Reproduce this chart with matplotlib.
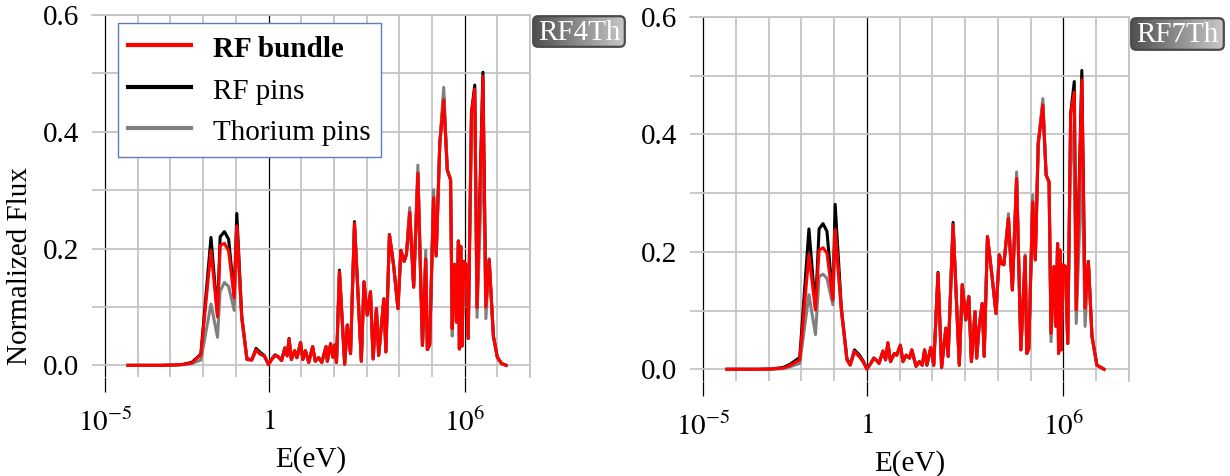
import numpy as np
import matplotlib
matplotlib.use("Agg")
import matplotlib.pyplot as plt
from matplotlib.patches import FancyBboxPatch
from matplotlib.ticker import FixedLocator, NullFormatter

# ---------------- data (log10 of energy in eV, normalized flux) ----------------
loge_4th = [-4.30, -3.80, -3.30, -2.90, -2.60, -2.35, -2.07, -1.76, -1.56, -1.48,
            -1.35, -1.22, -1.05, -0.97, -0.82, -0.66, -0.51, -0.38, -0.25, -0.13,
            0.00, 0.10, 0.20, 0.30, 0.40, 0.50, 0.57, 0.63, 0.70, 0.80,
            0.87, 0.98, 1.05, 1.13, 1.23, 1.35, 1.43, 1.53, 1.63, 1.76,
            1.80, 1.90, 1.97, 2.03, 2.08, 2.17, 2.33, 2.41, 2.51, 2.63,
            2.84, 2.92, 3.02, 3.12, 3.20, 3.30, 3.37, 3.45, 3.53, 3.59,
            3.70, 3.83, 3.96, 4.05, 4.15, 4.22, 4.32, 4.44, 4.57, 4.71,
            4.81, 4.86, 4.93, 5.05, 5.13, 5.24, 5.36, 5.47, 5.57, 5.62,
            5.69, 5.75, 5.81, 5.84, 5.88, 5.92, 5.97, 6.04, 6.11, 6.21,
            6.31, 6.38, 6.56, 6.65, 6.75, 6.88, 7.00, 7.13, 7.27]
bundle_4th = [0, 0, 0, 0.0005, 0.0015, 0.004, 0.018, 0.197, 0.083, 0.205,
              0.209, 0.196, 0.116, 0.239, 0.082, 0.010, 0.009, 0.026, 0.019, 0.016,
              0.001, 0.010, 0.017, 0.014, 0.008, 0.029, 0.016, 0.045, 0.010, 0.025,
              0.013, 0.039, 0.010, 0.025, 0.005, 0.032, 0.007, 0.013, 0.005, 0.032,
              0.007, 0.037, 0.014, 0.035, 0.005, 0.160, 0.002, 0.069, 0.020, 0.243,
              0.007, 0.143, 0.086, 0.126, 0.011, 0.097, 0.017, 0.066, 0.114, 0.023,
              0.224, 0.170, 0.097, 0.197, 0.178, 0.190, 0.262, 0.134, 0.329, 0.034,
              0.182, 0.027, 0.035, 0.287, 0.187, 0.380, 0.455, 0.334, 0.318, 0.063,
              0.173, 0.074, 0.213, 0.028, 0.204, 0.033, 0.178, 0.173, 0.046, 0.433,
              0.473, 0.099, 0.495, 0.100, 0.181, 0.050, 0.014, 0.003, 0.0]
rfpins_4th = [0, 0, 0, 0.0005, 0.0018, 0.005, 0.019, 0.219, 0.086, 0.220,
              0.229, 0.216, 0.118, 0.260, 0.086, 0.011, 0.010, 0.029, 0.022, 0.017,
              0.002, 0.011, 0.018, 0.015, 0.009, 0.030, 0.017, 0.046, 0.010, 0.025,
              0.013, 0.039, 0.010, 0.025, 0.005, 0.032, 0.007, 0.013, 0.005, 0.032,
              0.007, 0.037, 0.014, 0.035, 0.005, 0.163, 0.002, 0.069, 0.020, 0.246,
              0.007, 0.143, 0.086, 0.126, 0.011, 0.097, 0.017, 0.066, 0.114, 0.023,
              0.224, 0.170, 0.097, 0.197, 0.178, 0.190, 0.262, 0.134, 0.329, 0.034,
              0.182, 0.027, 0.035, 0.287, 0.189, 0.380, 0.460, 0.334, 0.318, 0.063,
              0.173, 0.074, 0.213, 0.028, 0.204, 0.033, 0.178, 0.173, 0.046, 0.433,
              0.480, 0.099, 0.502, 0.100, 0.182, 0.050, 0.014, 0.003, 0.0]
thorium_4th = [0, 0, 0, 0.0003, 0.001, 0.003, 0.009, 0.105, 0.048, 0.127,
               0.142, 0.135, 0.094, 0.235, 0.080, 0.010, 0.009, 0.026, 0.019, 0.016,
               0.001, 0.010, 0.017, 0.014, 0.008, 0.029, 0.016, 0.044, 0.010, 0.025,
               0.013, 0.039, 0.010, 0.025, 0.005, 0.032, 0.007, 0.013, 0.005, 0.032,
               0.007, 0.037, 0.014, 0.035, 0.005, 0.160, 0.002, 0.069, 0.020, 0.243,
               0.007, 0.143, 0.086, 0.126, 0.011, 0.097, 0.017, 0.066, 0.114, 0.023,
               0.224, 0.170, 0.097, 0.197, 0.178, 0.190, 0.270, 0.134, 0.343, 0.034,
               0.197, 0.027, 0.035, 0.301, 0.187, 0.380, 0.476, 0.334, 0.318, 0.050,
               0.173, 0.074, 0.213, 0.028, 0.204, 0.033, 0.178, 0.173, 0.046, 0.433,
               0.430, 0.082, 0.385, 0.080, 0.181, 0.050, 0.014, 0.003, 0.0]

loge_7th = [-4.27, -3.80, -3.30, -2.90, -2.56, -2.36, -2.05, -1.77, -1.57, -1.46,
            -1.34, -1.22, -1.04, -0.97, -0.78, -0.61, -0.51, -0.38, -0.24, -0.12,
            0.00, 0.13, 0.21, 0.28, 0.37, 0.49, 0.57, 0.64, 0.72, 0.84,
            0.91, 1.02, 1.10, 1.20, 1.30, 1.37, 1.50, 1.60, 1.69, 1.76,
            1.83, 1.95, 2.04, 2.17, 2.28, 2.41, 2.48, 2.63, 2.82, 2.91,
            3.02, 3.11, 3.19, 3.30, 3.35, 3.42, 3.52, 3.58, 3.68, 3.82,
            3.94, 4.04, 4.11, 4.18, 4.32, 4.44, 4.57, 4.70, 4.83, 4.88,
            4.94, 5.06, 5.14, 5.23, 5.37, 5.47, 5.56, 5.62, 5.71, 5.77,
            5.82, 5.85, 5.89, 5.93, 5.98, 6.06, 6.13, 6.22, 6.33, 6.39,
            6.56, 6.66, 6.76, 6.87, 7.02, 7.24]
bundle_7th = [0, 0, 0, 0.0005, 0.002, 0.006, 0.016, 0.195, 0.101, 0.203,
              0.207, 0.198, 0.118, 0.238, 0.101, 0.016, 0.007, 0.030, 0.022, 0.013,
              0.0, 0.011, 0.019, 0.016, 0.010, 0.031, 0.016, 0.045, 0.013, 0.027,
              0.024, 0.041, 0.013, 0.024, 0.019, 0.033, 0.005, 0.013, 0.007, 0.033,
              0.007, 0.037, 0.007, 0.163, 0.003, 0.070, 0.022, 0.246, 0.007, 0.144,
              0.084, 0.124, 0.013, 0.098, 0.019, 0.070, 0.112, 0.022, 0.226, 0.158,
              0.095, 0.195, 0.180, 0.178, 0.257, 0.135, 0.325, 0.033, 0.192, 0.027,
              0.035, 0.285, 0.186, 0.385, 0.450, 0.331, 0.319, 0.061, 0.175, 0.073,
              0.214, 0.027, 0.203, 0.033, 0.178, 0.175, 0.044, 0.436, 0.472, 0.101,
              0.493, 0.104, 0.183, 0.056, 0.007, 0.0]
rfpins_7th = [0, 0, 0, 0.0005, 0.003, 0.008, 0.020, 0.239, 0.103, 0.239,
              0.248, 0.235, 0.120, 0.281, 0.105, 0.018, 0.008, 0.033, 0.025, 0.015,
              0.001, 0.011, 0.019, 0.016, 0.010, 0.031, 0.016, 0.045, 0.013, 0.027,
              0.024, 0.041, 0.013, 0.024, 0.019, 0.033, 0.005, 0.013, 0.007, 0.033,
              0.007, 0.037, 0.007, 0.165, 0.003, 0.070, 0.022, 0.250, 0.007, 0.144,
              0.084, 0.124, 0.013, 0.098, 0.019, 0.070, 0.112, 0.022, 0.226, 0.158,
              0.095, 0.195, 0.180, 0.178, 0.257, 0.135, 0.325, 0.033, 0.192, 0.027,
              0.035, 0.285, 0.188, 0.385, 0.450, 0.331, 0.319, 0.061, 0.175, 0.073,
              0.214, 0.027, 0.203, 0.033, 0.178, 0.175, 0.044, 0.436, 0.490, 0.101,
              0.509, 0.104, 0.184, 0.056, 0.007, 0.0]
thorium_7th = [0, 0, 0, 0.0003, 0.001, 0.004, 0.010, 0.127, 0.059, 0.158,
               0.162, 0.155, 0.110, 0.235, 0.098, 0.016, 0.007, 0.030, 0.022, 0.013,
               0.0, 0.011, 0.019, 0.016, 0.010, 0.031, 0.016, 0.045, 0.013, 0.027,
               0.024, 0.041, 0.013, 0.024, 0.019, 0.033, 0.005, 0.013, 0.007, 0.033,
               0.007, 0.037, 0.007, 0.163, 0.003, 0.070, 0.022, 0.246, 0.007, 0.144,
               0.084, 0.124, 0.013, 0.098, 0.019, 0.070, 0.112, 0.022, 0.226, 0.158,
               0.095, 0.195, 0.180, 0.178, 0.265, 0.135, 0.336, 0.033, 0.195, 0.027,
               0.035, 0.297, 0.186, 0.385, 0.461, 0.331, 0.319, 0.047, 0.175, 0.073,
               0.214, 0.027, 0.203, 0.033, 0.178, 0.175, 0.044, 0.420, 0.340, 0.078,
               0.350, 0.073, 0.183, 0.056, 0.007, 0.0]

series_labels = ["RF bundle", "RF pins", "Thorium pins"]
series_colors = ["#ff0000", "#000000", "#808080"]
panel_tags = ["RF4Th", "RF7Th"]
y_ticks = [0.0, 0.2, 0.4, 0.6]
y_minor = [0.1, 0.3, 0.5]
x_major = [1e-5, 1.0, 1e6]
x_major_labels = [r"$10^{-5}$", r"$1$", r"$10^{6}$"]
x_minor_exp = [-4, -3, -2, -1, 1, 2, 3, 4, 5, 7, 8]

# ---------------- style ----------------
plt.rcParams["font.family"] = ["Liberation Serif", "DejaVu Serif"]
plt.rcParams["mathtext.fontset"] = "stix"
FS = 21
GRID = "#c4c4c4"
LW = 2.2

fig = plt.figure(figsize=(12.3, 4.76), dpi=100)
W, H = 1230.0, 476.0

def px_axes(x0, y0, x1, y1):
    return [x0 / W, 1 - y1 / H, (x1 - x0) / W, (y1 - y0) / H]

panels = [
    (px_axes(92, 15, 530, 377), loge_4th, bundle_4th, rfpins_4th, thorium_4th, (532, 15, 626, 48)),
    (px_axes(690, 17, 1129, 381), loge_7th, bundle_7th, rfpins_7th, thorium_7th, (1130, 17, 1225, 51)),
]

for i, (pos, loge, bundle, pins, thor, tagbox) in enumerate(panels):
    ax = fig.add_axes(pos)
    E = np.power(10.0, np.array(loge))
    l_pins, = ax.plot(E, pins, color=series_colors[1], lw=LW, zorder=3, label=series_labels[1])
    l_thor, = ax.plot(E, thor, color=series_colors[2], lw=LW, zorder=4, label=series_labels[2])
    l_bund, = ax.plot(E, bundle, color=series_colors[0], lw=LW, zorder=5, label=series_labels[0])
    ax.set_xscale("log")
    ax.set_xlim(10 ** -5.4, 1e8)
    ax.set_ylim(-0.02, 0.6)

    ax.xaxis.set_major_locator(FixedLocator(x_major))
    ax.set_xticklabels(x_major_labels)
    ax.xaxis.set_minor_locator(FixedLocator([10.0 ** e for e in x_minor_exp]))
    ax.xaxis.set_minor_formatter(NullFormatter())
    ax.set_yticks(y_ticks)
    ax.set_yticklabels([f"{v:.1f}" for v in y_ticks])
    ax.yaxis.set_minor_locator(FixedLocator(y_minor))

    ax.grid(which="major", axis="x", color="black", lw=0.9, zorder=1)
    ax.grid(which="minor", axis="x", color=GRID, lw=1.3, zorder=1)
    ax.grid(which="both", axis="y", color=GRID, lw=1.3, zorder=1)
    ax.set_axisbelow(True)

    ax.tick_params(axis="x", which="major", direction="out", length=11, width=0.9,
                   color="black", labelsize=FS, pad=12)
    ax.tick_params(axis="x", which="minor", length=0)
    ax.tick_params(axis="y", which="both", length=0, labelsize=FS, pad=9)

    for s in ["left", "bottom"]:
        ax.spines[s].set_visible(False)
    for s in ["top", "right"]:
        ax.spines[s].set_color(GRID)
        ax.spines[s].set_linewidth(1.3)

    ax.set_xlabel("E(eV)", fontsize=FS, labelpad=6)
    if i == 0:
        ax.set_ylabel("Normalized Flux", fontsize=FS)
        ax.yaxis.set_label_coords((33 - 92) / 438, (377 - 266) / 362)
        leg = ax.legend(handles=[l_bund, l_pins, l_thor], loc="upper left",
                        bbox_to_anchor=((118 - 92) / 438, 1 - (23 - 15) / 362),
                        borderaxespad=0, fontsize=FS, frameon=True, fancybox=False,
                        edgecolor="#5b7fb8", framealpha=1, handlelength=2.15,
                        handleheight=1.1, handletextpad=0.75, labelspacing=0.4,
                        borderpad=0.35)
        leg.get_frame().set_linewidth(1.0)
        for ln in leg.get_lines():
            ln.set_linewidth(3.0)
        leg.get_texts()[0].set_fontweight("bold")
        leg.set_zorder(10)

    # tag with gradient fill
    x0, y0, x1, y1 = tagbox
    tw, th = x1 - x0, y1 - y0
    tax = fig.add_axes(px_axes(x0, y0, x1, y1))
    tax.set_xlim(0, tw)
    tax.set_ylim(0, th)
    tax.axis("off")
    patch = FancyBboxPatch((1.2, 1.2), tw - 2.4, th - 2.4,
                           boxstyle="round,pad=0,rounding_size=5",
                           facecolor="none", edgecolor="#4a4a4a", lw=1.6, zorder=3)
    tax.add_patch(patch)
    grad = np.linspace(0, 1, 256).reshape(1, -1)
    im = tax.imshow(grad, extent=(1.2, tw - 1.2, 1.2, th - 1.2), aspect="auto",
                    cmap=matplotlib.colors.LinearSegmentedColormap.from_list(
                        "tg", ["#4f4f4f", "#c9c9c9"]), zorder=2)
    im.set_clip_path(patch)
    tax.text(tw / 2, th / 2 - 1, panel_tags[i], color="white", fontsize=FS,
             ha="center", va="center", zorder=4)

fig.savefig("out.png", dpi=100)
